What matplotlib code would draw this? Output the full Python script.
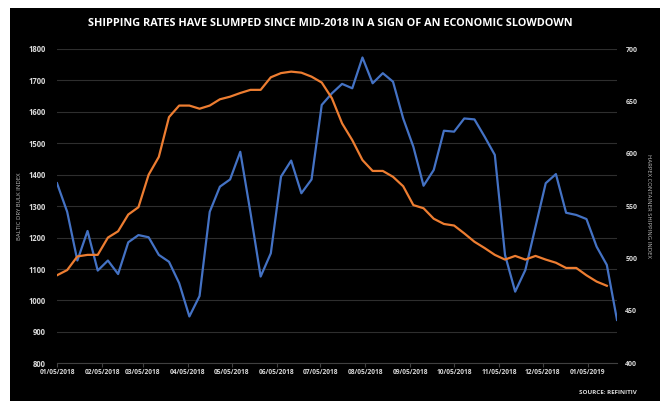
import matplotlib
matplotlib.use("Agg")
import matplotlib.pyplot as plt
import matplotlib.dates as mdates
import pandas as pd
from matplotlib.patches import Rectangle

# ================================================================
# Daten (woechentlich ab 05.01.2018)
# ================================================================
START_DATE = "2018-01-05"

bdi = [1373, 1282, 1127, 1221, 1095, 1127, 1084, 1185, 1208, 1201,
       1145, 1123, 1055, 949, 1014, 1282, 1362, 1385, 1473, 1280,
       1076, 1150, 1394, 1445, 1341, 1385, 1622, 1659, 1689, 1675,
       1773, 1691, 1723, 1696, 1579, 1489, 1365, 1415, 1540, 1537,
       1579, 1576, 1521, 1463, 1145, 1028, 1097, 1235, 1373, 1402,
       1279, 1272, 1259, 1171, 1113, 938]

harpex = [484, 489, 502, 503.5, 503.5, 520, 526, 542, 549, 580,
          597, 635, 646, 646, 643, 646, 652, 654.5, 658, 661,
          661, 673, 677, 678.4, 677.4, 673.6, 668, 653, 629, 613,
          594, 583.6, 583.6, 578, 569, 551, 548, 538, 533, 531.5,
          524, 516, 510, 503.5, 499, 502.5, 499, 502.5, 499, 496,
          491, 491, 484, 478, 474]

title = "SHIPPING RATES HAVE SLUMPED SINCE MID-2018 IN A SIGN OF AN ECONOMIC SLOWDOWN"
left_label = "BALTIC DRY BULK INDEX"
right_label = "HARPEX CONTAINER SHIPPING INDEX"
source = "SOURCE: REFINITIV"

dates_bdi = pd.date_range(START_DATE, periods=len(bdi), freq="7D")
dates_hpx = dates_bdi[:len(harpex)]

BLUE = "#4472C4"
ORANGE = "#ED7D31"
TXT = "#d9d9d9"
FONT = "Open Sans"

# ================================================================
# Plot
# ================================================================
fig = plt.figure(figsize=(6.6, 4.01), dpi=100)
fig.patch.set_facecolor("white")
fig.patches.append(Rectangle((10 / 660, 0), 1, 1 - 8 / 401, transform=fig.transFigure,
                             facecolor="black", edgecolor="none", zorder=-10))

ax1 = fig.add_axes([57 / 660, 1 - 363.3 / 401, 560 / 660, 314.3 / 401])
ax1.set_facecolor("black")
ax2 = ax1.twinx()

ax1.plot(dates_bdi, bdi, color=BLUE, linewidth=1.6, zorder=3)
ax2.plot(dates_hpx, harpex, color=ORANGE, linewidth=1.6, zorder=3)

ax1.set_ylim(800, 1800)
ax1.set_yticks(range(800, 1801, 100))
ax2.set_ylim(400, 700)
ax2.set_yticks(range(400, 701, 50))
ax1.set_xlim(dates_bdi[0], dates_bdi[-1])

ax1.grid(True, axis="y", color="#2e2e2e", linewidth=0.8)
ax1.set_axisbelow(True)

ax1.xaxis.set_major_locator(mdates.MonthLocator(bymonthday=5))
ax1.xaxis.set_major_formatter(mdates.DateFormatter("%m/%d/%Y"))

for ax in (ax1, ax2):
    for s in ax.spines.values():
        s.set_visible(False)
ax1.spines["bottom"].set_visible(True)
ax1.spines["bottom"].set_color("#404040")

ax1.tick_params(axis="y", length=0, labelsize=5.5, labelcolor=TXT, pad=8)
ax2.tick_params(axis="y", length=0, labelsize=5, labelcolor=TXT, pad=6)
ax1.tick_params(axis="x", length=3, color="#404040", labelsize=4.8, labelcolor=TXT, pad=1)
for lab in ax1.get_yticklabels() + ax2.get_yticklabels() + ax1.get_xticklabels():
    lab.set_fontfamily(FONT)
    lab.set_fontweight("bold")

ax1.set_ylabel(left_label, fontsize=4.2, color="#bfbfbf", family=FONT, labelpad=5)
ax2.set_ylabel(right_label, fontsize=4.2, color="#bfbfbf", family=FONT, rotation=270, labelpad=10)

fig.text(0.5, 1 - 23 / 401, title, ha="center", va="center", color="white",
         fontsize=7.8, fontweight="bold", family=FONT)
fig.text(637 / 660, 1 - 392 / 401, source, ha="right", va="center", color=TXT,
         fontsize=4.5, fontweight="bold", family=FONT)

fig.savefig("out.png", dpi=100, facecolor=fig.get_facecolor())
